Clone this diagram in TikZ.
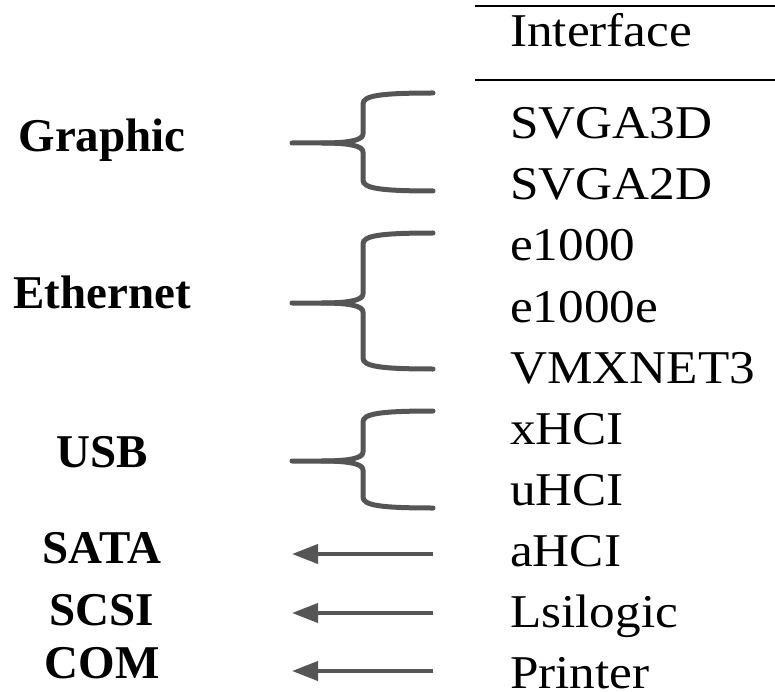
\documentclass[tikz,border=0pt]{standalone}
\usepackage{fontspec}
\setmainfont{Liberation Serif}
\newfontfamily\ifacefont[FakeStretch=1.09]{Liberation Serif}
\usetikzlibrary{arrows.meta}
\definecolor{linkgray}{RGB}{85,85,85}
\tikzset{
  iface/.style={anchor=base west, inner sep=0pt, font=\ifacefont\fontsize{47}{47}\selectfont},
  group/.style={anchor=base, inner sep=0pt, font=\bfseries\fontsize{47}{47}\selectfont},
  rule/.style={line width=2.4pt, black},
  bracearm/.style={line width=5pt, linkgray, line cap=round, line join=round},
  maparrow/.style={line width=4pt, linkgray, -{Triangle[length=26pt,width=19pt]}},
}
% draws a curly brace: #1 top end y, #2 bottom end y, #3 tip y
\newcommand{\groupbrace}[3]{%
  \draw[bracearm] (433,#1) .. controls (378,#1) and (363,#1+3) .. (363,#1+11)
    -- (363,#3-9) .. controls (363,#3-3) and (350,#3) .. (322,#3) -- (292,#3);
  \draw[bracearm] (433,#2) .. controls (378,#2) and (363,#2-3) .. (363,#2-11)
    -- (363,#3+9) .. controls (363,#3+3) and (350,#3) .. (322,#3);
}
\begin{document}
\begin{tikzpicture}[x=1pt,y=-1pt]
\useasboundingbox (0,0) rectangle (775,692);

% table header
\draw[rule] (475,6) -- (775,6);
\node[iface] (hdr) at (510,47) {Interface};
\draw[rule] (475,80) -- (775,80);

% interface column
\node[iface] (svga3d)   at (510,139) {SVGA3D};
\node[iface] (svga2d)   at (510,200) {SVGA2D};
\node[iface] (e1000)    at (510,261) {e1000};
\node[iface] (e1000e)   at (510,322) {e1000e};
\node[iface] (vmxnet3)  at (510,383) {VMXNET3};
\node[iface] (xhci)     at (510,444) {xHCI};
\node[iface] (uhci)     at (510,505) {uHCI};
\node[iface] (ahci)     at (510,566) {aHCI};
\node[iface] (lsilogic) at (510,627) {Lsilogic};
\node[iface] (printer)  at (510,688) {Printer};

% device groups
\node[group] (graphic)  at (102,152) {Graphic};
\node[group] (ethernet) at (102,308) {Ethernet};
\node[group] (usb)      at (102,467) {USB};
\node[group] (sata)     at (102,563) {SATA};
\node[group] (scsi)     at (102,625) {SCSI};
\node[group] (com)      at (102,678) {COM};

% braces grouping several interfaces
\groupbrace{93}{191}{143}
\groupbrace{233}{369}{303}
\groupbrace{411}{508}{461}

% single interface mappings
\coordinate (ahci-out)     at (433,554);
\coordinate (sata-in)      at (292,554);
\coordinate (lsilogic-out) at (433,613);
\coordinate (scsi-in)      at (292,613);
\coordinate (printer-out)  at (433,671);
\coordinate (com-in)       at (292,671);
\draw[maparrow] (ahci-out) -- (sata-in);
\draw[maparrow] (lsilogic-out) -- (scsi-in);
\draw[maparrow] (printer-out) -- (com-in);
\end{tikzpicture}
\end{document}
